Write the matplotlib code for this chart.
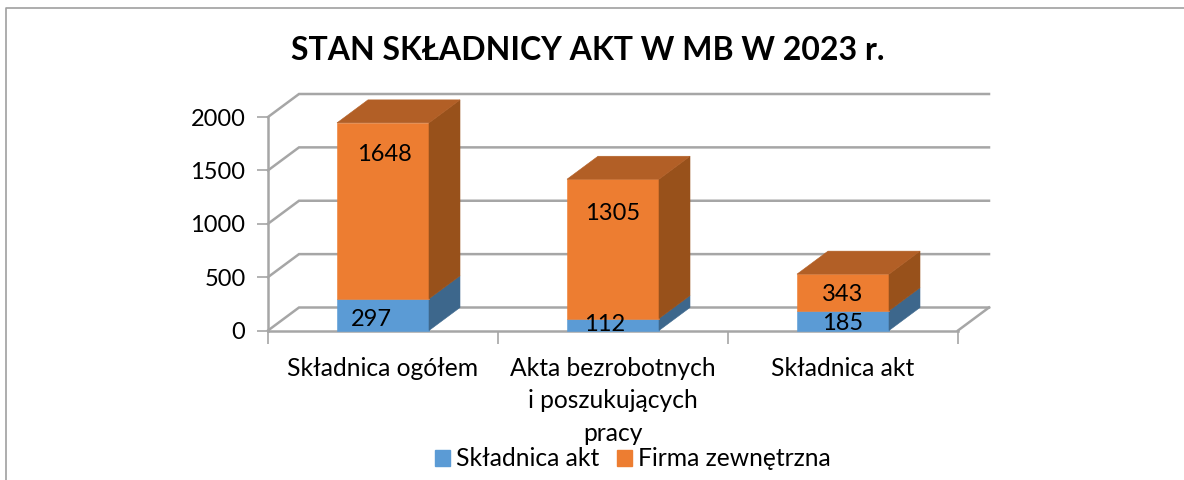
"""Stacked pseudo-3D column chart: stan składnicy akt w MB w 2023 r."""

import matplotlib
matplotlib.use("Agg")
import matplotlib.pyplot as plt
import numpy as np
from matplotlib.lines import Line2D
from matplotlib.patches import Patch, Polygon

plt.rcParams["font.family"] = ["Lato", "DejaVu Sans"]

CATEGORIES = ["Składnica ogółem", "Akta bezrobotnych\ni poszukujących\npracy", "Składnica akt"]
SKLADNICA = [297, 112, 185]
FIRMA = [1648, 1305, 343]
Y_TICKS = [0, 500, 1000, 1500, 2000]

W, H = 1184, 480
BLUE = "#5B9BD5"
ORANGE = "#ED7D31"
BLUE_SIDE = "#3D678C"
ORANGE_SIDE = "#98511B"
ORANGE_TOP = "#B25F26"
GREY = "#A6A6A6"

# plot box in pixels (front plane of the 3D chart)
X0, X1, Y_TOP, Y_BASE = 268, 958, 117, 330.5
BAR_W = 0.4
DX = 31 / 230  # depth in category units
DY = 23 / ((Y_BASE - Y_TOP) / 2000)  # depth in value units

# label spots do not follow the segment centres in the original
LABEL_BLUE_Y = [100, 60, 65]
LABEL_ORANGE_Y = [1650, 1100, 335]
LABEL_SHIFT = [0.005, 0.0, 0.0]
LABEL_BLUE_SHIFT = [-0.05, -0.035, 0.0]


def box(ax, x, bottom, top, front, side):
    ax.add_patch(Polygon([(x, bottom), (x + BAR_W, bottom), (x + BAR_W, top), (x, top)],
                         fc=front, ec=front, lw=0.4, zorder=3, clip_on=False))
    ax.add_patch(Polygon([(x + BAR_W, bottom), (x + BAR_W + DX, bottom + DY),
                          (x + BAR_W + DX, top + DY), (x + BAR_W, top)],
                         fc=side, ec=side, lw=0.4, zorder=3, clip_on=False))


fig = plt.figure(figsize=(W / 100, H / 100), dpi=100)
ax = fig.add_axes([X0 / W, 1 - Y_BASE / H, (X1 - X0) / W, (Y_BASE - Y_TOP) / H])
ax.set_xlim(0, 3)
ax.set_ylim(0, 2000)
ax.patch.set_alpha(0)

# back wall grid and side wall
for v in Y_TICKS:
    ax.plot([0, DX, 3 + DX], [v, v + DY, v + DY], color=GREY, lw=1.8, zorder=1,
            clip_on=False, solid_joinstyle="miter")
ax.plot([3, 3 + DX], [0, DY], color=GREY, lw=1.8, zorder=1, clip_on=False)

# columns
centers = np.arange(len(CATEGORIES)) + 0.5
for i, c in enumerate(centers):
    x = c - BAR_W / 2
    total = SKLADNICA[i] + FIRMA[i]
    box(ax, x, 0, SKLADNICA[i], BLUE, BLUE_SIDE)
    box(ax, x, SKLADNICA[i], total, ORANGE, ORANGE_SIDE)
    ax.add_patch(Polygon([(x, total), (x + BAR_W, total), (x + BAR_W + DX, total + DY),
                          (x + DX, total + DY)],
                         fc=ORANGE_TOP, ec=ORANGE_TOP, lw=0.4, zorder=3, clip_on=False))
    ax.text(c + LABEL_BLUE_SHIFT[i], LABEL_BLUE_Y[i], str(SKLADNICA[i]), ha="center", va="center",
            fontsize=17, color="black", zorder=5)
    ax.text(c + LABEL_SHIFT[i], LABEL_ORANGE_Y[i], str(FIRMA[i]), ha="center", va="center",
            fontsize=17, color="black", zorder=5)

# axes
for name in ("top", "right"):
    ax.spines[name].set_visible(False)
for name in ("left", "bottom"):
    ax.spines[name].set_color(GREY)
    ax.spines[name].set_linewidth(1.8)
    ax.spines[name].set_zorder(2)
ax.set_yticks(Y_TICKS)
ax.set_xticks(np.arange(4))
ax.set_xticklabels([])
ax.set_xticks(centers, CATEGORIES, minor=True)
ax.tick_params(axis="y", length=8, width=1.2, color=GREY, labelsize=17, pad=8.2)
ax.tick_params(axis="x", which="major", length=9, width=1.2, color=GREY)
ax.tick_params(axis="x", which="minor", length=0, labelsize=17.7, pad=19)
for lab in ax.get_xticklabels(minor=True):
    lab.set_linespacing(1.5)

fig.suptitle("STAN SKŁADNICY AKT W MB W 2023 r.", x=588 / W, y=1 - 50 / H, va="center",
             fontsize=23, fontweight="bold")

handles = [Patch(color=BLUE, label="Składnica akt"), Patch(color=ORANGE, label="Firma zewnętrzna")]
fig.legend(handles=handles, ncol=2, loc="center", bbox_to_anchor=(633 / W, 1 - 459 / H), frameon=False,
           fontsize=17.7, handlelength=0.61, handleheight=0.61, handletextpad=0.25, columnspacing=0.7,
           borderpad=0, borderaxespad=0)

# chart area frame, cut by the picture on the right and at the bottom
fig.add_artist(Line2D([6 / W, 6 / W, 1], [0, 1 - 7.5 / H, 1 - 7.5 / H], color="#A0A0A0", lw=1.2,
                      transform=fig.transFigure))

fig.savefig("out.png", dpi=100)
